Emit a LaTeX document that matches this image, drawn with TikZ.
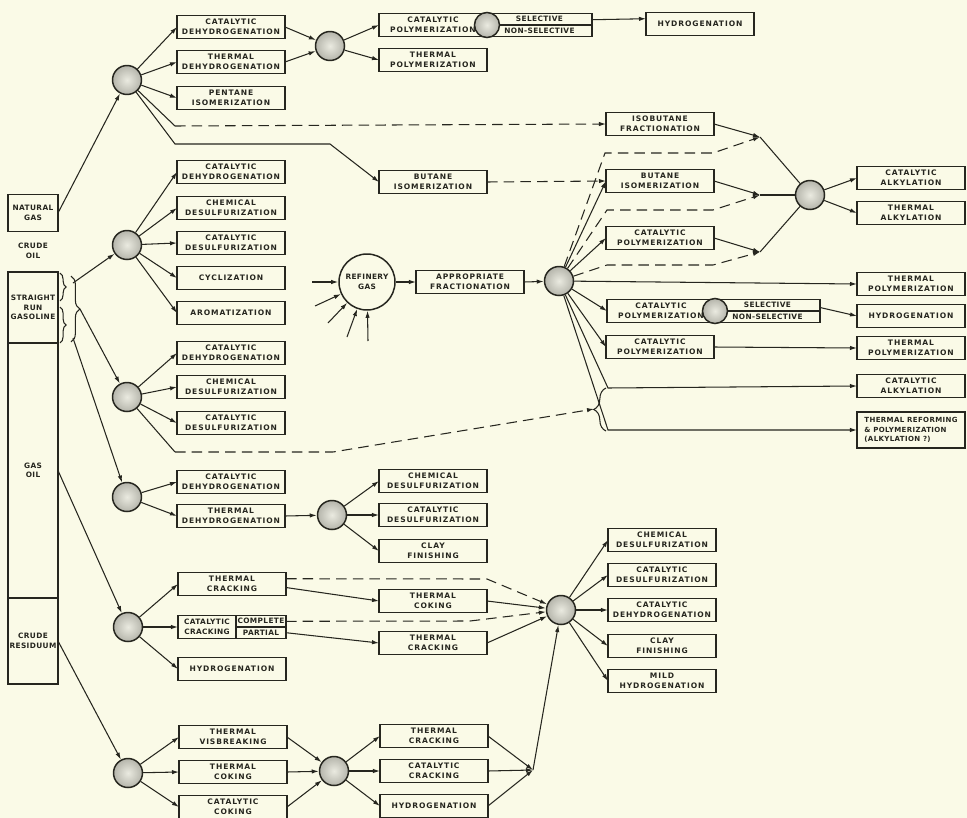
\documentclass[tikz,border=0pt]{standalone}
\usepackage{fontspec}
\newfontfamily\rfFont[LetterSpace=12]{DejaVu Sans}
\newfontfamily\rfTight[LetterSpace=5]{DejaVu Sans}
\usetikzlibrary{arrows.meta,positioning,calc,decorations.pathreplacing}
\definecolor{rfInk}    {HTML}{26261F}
\definecolor{rfPaper}  {HTML}{FAFAE7}
\definecolor{rfBallIn} {HTML}{EAEAE0}
\definecolor{rfBallOut}{HTML}{B5B5AB}

\tikzset{
  proc/.style={draw=rfInk, line width=0.85pt, outer sep=0pt, minimum width=2.16cm, minimum height=0.46cm,
    inner sep=0.5pt, align=center, text=rfInk, font=\rfFont\bfseries\fontsize{4.3}{5.5}\selectfont},
  narrow/.style={proc, font=\rfTight\bfseries\fontsize{4.2}{5.4}\selectfont},
  feed/.style={narrow, minimum width=1cm},
  duo/.style={proc, font=\rfTight\bfseries\fontsize{4.2}{6.6}\selectfont},
  hub/.style={circle, draw=rfInk, line width=0.85pt, minimum size=0.58cm, inner sep=0pt,
    inner color=rfBallIn, outer color=rfBallOut},
  minihub/.style={hub, minimum size=0.5cm},
  link/.style={draw=rfInk, line width=0.6pt},
  flow/.style={link, -{Latex[length=4pt,width=2.5pt]}},
  alt/.style={flow, dash pattern=on 6pt off 3.5pt},
  curly/.style={link, decorate, decoration={brace, amplitude=#1}}
}

\begin{document}
\begin{tikzpicture}[x=0.02cm, y=-0.02cm]
  \fill[rfPaper] (0,0) rectangle (967,818);
  \useasboundingbox (0,0) rectangle (967,818);

  \node[feed, minimum height=0.74cm] (ngas) at (33,213) {NATURAL\\GAS};
  \node[align=center, text=rfInk, font=\rfTight\bfseries\fontsize{4.2}{5.4}\selectfont] (crude) at (33,251) {CRUDE\\OIL};
  \node[feed, minimum height=1.42cm] (srg) at (33,307.5) {STRAIGHT\\RUN\\GASOLINE};
  \node[feed, minimum height=5.1cm, anchor=north] (goil) at (srg.south) {GAS\\OIL};
  \node[feed, minimum height=1.72cm, anchor=north] (resid) at (goil.south) {CRUDE\\RESIDUUM};

  \draw[curly=3.5pt] (60,273) -- (60,301);
  \draw[curly=3.5pt] (60,307) -- (60,343);
  \draw[curly=5pt] (71,276) -- (71,342);
  \coordinate (gtop) at (73,283);
  \coordinate (gmid) at (80,309);
  \coordinate (gbot) at (73,338);

  \node[hub] (hub1) at (127,80) {};
  \node[hub] (hub2) at (127,245) {};
  \node[hub] (hub3) at (127,397) {};
  \node[hub] (hub4) at (127,497) {};
  \node[hub] (hub5) at (128,627) {};
  \node[hub] (hub6) at (128,773) {};
  \node[hub] (hub7) at (330,46) {};
  \node[hub] (hub8) at (332,515) {};
  \node[hub] (hub9) at (334,771) {};
  \node[hub] (hub10) at (559,281) {};
  \node[hub] (hub11) at (810,195) {};
  \node[hub] (hub12) at (561,610) {};

  \node[proc] (a1) at (231,27) {CATALYTIC\\DEHYDROGENATION};
  \node[proc] (a2) at (231,62) {THERMAL\\DEHYDROGENATION};
  \node[proc] (a3) at (231,98) {PENTANE\\ISOMERIZATION};
  \node[proc] (a4) at (231,172) {CATALYTIC\\DEHYDROGENATION};
  \node[proc] (a5) at (231,208) {CHEMICAL\\DESULFURIZATION};
  \node[proc] (a6) at (231,243) {CATALYTIC\\DESULFURIZATION};
  \node[proc] (a7) at (231,278) {CYCLIZATION};
  \node[proc] (a8) at (231,313) {AROMATIZATION};
  \node[proc] (a9) at (231,353) {CATALYTIC\\DEHYDROGENATION};
  \node[proc] (a10) at (231,387) {CHEMICAL\\DESULFURIZATION};
  \node[proc] (a11) at (231,423) {CATALYTIC\\DESULFURIZATION};
  \node[proc] (a12) at (231,482) {CATALYTIC\\DEHYDROGENATION};
  \node[proc] (a13) at (231,516) {THERMAL\\DEHYDROGENATION};
  \node[proc] (a14) at (232,584) {THERMAL\\CRACKING};
  \node[narrow, minimum width=1.16cm] (catcr) at (207,627) {CATALYTIC\\CRACKING};
  \node[duo, minimum width=1cm, anchor=west] (split) at (catcr.east) {COMPLETE\\PARTIAL};
  \draw[link, line width=0.85pt] (split.west) -- (split.east);
  \node[proc] (a16) at (232,669) {HYDROGENATION};
  \node[proc] (a17) at (233,737) {THERMAL\\VISBREAKING};
  \node[proc] (a18) at (233,772) {THERMAL\\COKING};
  \node[proc] (a19) at (233,807) {CATALYTIC\\COKING};

  \node[proc] (poly1) at (433,25) {CATALYTIC\\POLYMERIZATION};
  \node[duo, minimum width=2.1cm, anchor=west] (sel1) at (poly1.east) {SELECTIVE\\NON-SELECTIVE};
  \draw[link, line width=0.85pt] (sel1.west) -- (sel1.east);
  \node[minihub] (mini1) at (poly1.east) {};
  \node[proc] (poly2) at (433,60) {THERMAL\\POLYMERIZATION};
  \node[proc] (hyd1) at (700,24) {HYDROGENATION};

  \node[proc] (butis1) at (433,182) {BUTANE\\ISOMERIZATION};
  \node[proc] (b1) at (433,481) {CHEMICAL\\DESULFURIZATION};
  \node[proc] (b2) at (433,515) {CATALYTIC\\DESULFURIZATION};
  \node[proc] (b3) at (433,551) {CLAY\\FINISHING};
  \node[proc] (b4) at (433,601) {THERMAL\\COKING};
  \node[proc] (b5) at (433,643) {THERMAL\\CRACKING};
  \node[proc] (b6) at (434,736) {THERMAL\\CRACKING};
  \node[proc] (b7) at (434,771) {CATALYTIC\\CRACKING};
  \node[proc] (b8) at (434,806) {HYDROGENATION};

  \node[circle, draw=rfInk, line width=0.85pt, fill=rfPaper, minimum size=1.12cm, inner sep=0pt,
    align=center, text=rfInk, font=\rfTight\bfseries\fontsize{4.2}{5.4}\selectfont] (rg) at (367,282) {REFINERY\\GAS};
  \node[proc] (af) at (470,282) {APPROPRIATE\\FRACTIONATION};

  \node[proc] (isofr) at (660,124) {ISOBUTANE\\FRACTIONATION};
  \node[proc] (butis2) at (660,181) {BUTANE\\ISOMERIZATION};
  \node[proc] (cp1) at (660,238) {CATALYTIC\\POLYMERIZATION};
  \node[proc] (cp2) at (661,311) {CATALYTIC\\POLYMERIZATION};
  \node[duo, minimum width=2.1cm, anchor=west] (sel2) at (cp2.east) {SELECTIVE\\NON-SELECTIVE};
  \draw[link, line width=0.85pt] (sel2.west) -- (sel2.east);
  \node[minihub] (mini2) at (cp2.east) {};
  \node[proc] (cp3) at (660,347) {CATALYTIC\\POLYMERIZATION};

  \node[proc] (c1) at (662,540) {CHEMICAL\\DESULFURIZATION};
  \node[proc] (c2) at (662,575) {CATALYTIC\\DESULFURIZATION};
  \node[proc] (c3) at (662,610) {CATALYTIC\\DEHYDROGENATION};
  \node[proc] (c4) at (662,646) {CLAY\\FINISHING};
  \node[proc] (c5) at (662,681) {MILD\\HYDROGENATION};

  \node[proc] (r1) at (911,178) {CATALYTIC\\ALKYLATION};
  \node[proc] (r2) at (911,213) {THERMAL\\ALKYLATION};
  \node[proc] (r3) at (911,284) {THERMAL\\POLYMERIZATION};
  \node[proc] (r4) at (911,316) {HYDROGENATION};
  \node[proc] (r5) at (911,348) {THERMAL\\POLYMERIZATION};
  \node[proc] (r6) at (911,386) {CATALYTIC\\ALKYLATION};
  \node[narrow, minimum height=0.72cm, align=left, font=\rfTight\bfseries\fontsize{4}{5.3}\selectfont]
    (r7) at (911,430) {THERMAL REFORMING\\\& POLYMERIZATION\\(ALKYLATION ?)};

  \coordinate (iso0) at (175,126);
  \coordinate (but0) at (175,144);
  \coordinate (but1) at (330,144);
  \coordinate (res0) at (175,452);
  \coordinate (res1) at (333,452);
  \coordinate (ctip) at (594,409);
  \coordinate (ck1) at (487,579);
  \coordinate (ck2) at (470,621);
  \coordinate (fin0) at (533,770);
  \coordinate (j1) at (760,137);
  \coordinate (j2) at (760,195);
  \coordinate (j3) at (760,252);
  \coordinate (up1) at (605,153);
  \coordinate (up1e) at (713,153);
  \coordinate (up2) at (607,210);
  \coordinate (up2e) at (713,210);
  \coordinate (up3) at (607,265);
  \coordinate (up3e) at (713,265);
  \coordinate (dn1) at (608,388);
  \coordinate (dn2) at (608,430);
  \coordinate (feed1) at (312,282);
  \coordinate (feed2) at (315,306);
  \coordinate (feed3) at (328,323);
  \coordinate (feed4) at (347,337);
  \coordinate (feed5) at (368,341);

  \draw[flow] (ngas.east) -- (hub1);
  \draw[flow] (gtop) -- (hub2);
  \draw[flow] (gmid) -- (hub3);
  \draw[flow] (gbot) -- (hub4);
  \draw[flow] (goil.east) -- (hub5);
  \draw[flow] (resid.east) -- (hub6);

  \foreach \t in {a1,a2,a3} \draw[flow] (hub1) -- (\t.west);
  \foreach \t in {a4,a5,a6,a7,a8} \draw[flow] (hub2) -- (\t.west);
  \foreach \t in {a9,a10,a11} \draw[flow] (hub3) -- (\t.west);
  \foreach \t in {a12,a13} \draw[flow] (hub4) -- (\t.west);
  \foreach \t in {a14,catcr,a16} \draw[flow] (hub5) -- (\t.west);
  \foreach \t in {a17,a18,a19} \draw[flow] (hub6) -- (\t.west);
  \foreach \t in {b1,b2,b3} \draw[flow] (hub8) -- (\t.west);
  \foreach \t in {b6,b7,b8} \draw[flow] (hub9) -- (\t.west);
  \foreach \t in {c1,c2,c3,c4,c5} \draw[flow] (hub12) -- (\t.west);
  \foreach \t in {a17,a18,a19} \draw[flow] (\t.east) -- (hub9);
  \foreach \t in {b6,b7,b8} \draw[flow] (\t.east) -- (fin0);
  \draw[flow] (fin0) -- (hub12);

  \draw[flow] (a1.east) -- (hub7);
  \draw[flow] (a2.east) -- (hub7);
  \draw[flow] (hub7) -- (poly1.west);
  \draw[flow] (hub7) -- (poly2.west);
  \draw[flow] ([yshift=3pt]sel1.east) -- ([yshift=3pt]hyd1.west);

  \draw[link] (hub1) -- (iso0);
  \draw[alt] (iso0) -- (isofr.west);
  \draw[flow] (hub1) -- (but0) -- (but1) -- (butis1.west);
  \draw[alt] (butis1.east) -- (butis2.west);

  \draw[link] (hub3) -- (res0);
  \draw[alt] (res0) -- (res1) -- (ctip);
  \draw[curly=7pt] (606,431) -- (606,388);

  \draw[flow] (a13.east) -- (hub8);
  \draw[alt] ([yshift=3pt]a14.east) -- (ck1) -- (hub12);
  \draw[flow] ([yshift=-2pt]a14.east) -- (b4.west);
  \draw[alt] ([yshift=3.25pt]split.east) -- (ck2) -- (hub12);
  \draw[flow] ([yshift=-3.25pt]split.east) -- (b5.west);
  \draw[flow] (b4.east) -- (hub12);
  \draw[flow] (b5.east) -- (hub12);

  \foreach \f in {feed1,feed2,feed3,feed4,feed5} \draw[flow] (\f) -- (rg);
  \draw[flow] (rg) -- (af.west);
  \draw[flow] (af.east) -- (hub10);

  \draw[alt] (hub10) -- (up1) -- (up1e) -- (j1);
  \draw[flow] (hub10) -- (butis2.west);
  \draw[alt] (hub10) -- (up2) -- (up2e) -- (j2);
  \draw[flow] (hub10) -- (cp1.west);
  \draw[alt] (hub10) -- (up3) -- (up3e) -- (j3);
  \draw[flow] (hub10) -- (r3.west);
  \draw[flow] (hub10) -- (cp2.west);
  \draw[flow] (hub10) -- (cp3.west);
  \draw[flow] (hub10) -- (dn1) -- (r6.west);
  \draw[flow] (hub10) -- (dn2) -- (r7.west);

  \draw[flow] (isofr.east) -- (j1);
  \draw[flow] (butis2.east) -- (j2);
  \draw[flow] (cp1.east) -- (j3);
  \foreach \j in {j1,j2,j3} \draw[link] (\j) -- (hub11);
  \draw[flow] (hub11) -- (r1.west);
  \draw[flow] (hub11) -- (r2.west);
  \draw[flow] ([yshift=2pt]sel2.east) -- (r4.west);
  \draw[flow] (cp3.east) -- (r5.west);
\end{tikzpicture}
\end{document}
